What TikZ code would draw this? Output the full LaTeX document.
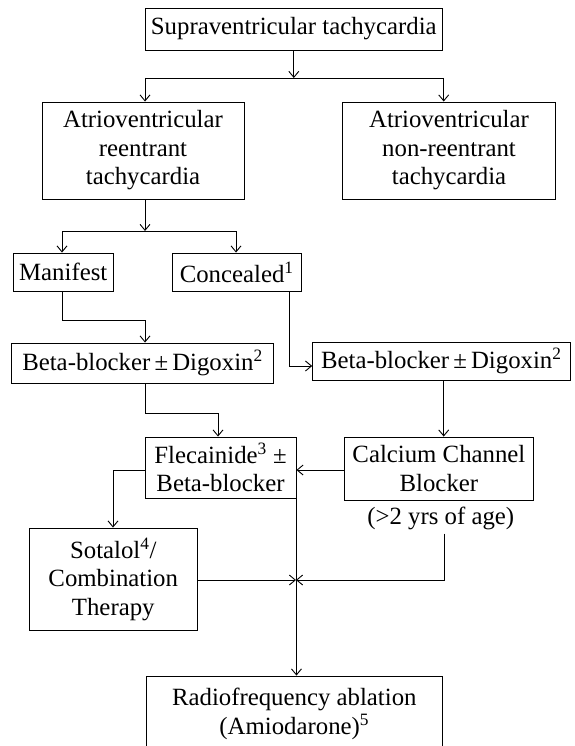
\documentclass[tikz,border=0pt]{standalone}
\usepackage{fontspec}
\setmainfont{Liberation Serif}
\usetikzlibrary{arrows.meta}
\newcommand\boxfont{\fontsize{24.8}{28.5}\selectfont}
\begin{document}
\begin{tikzpicture}[x=1pt,y=-1pt,
  box/.style={draw, line width=0.9pt, inner sep=0pt, align=center, font=\boxfont},
  lbl/.style={inner sep=0pt, align=center, font=\boxfont},
  ln/.style={line width=0.9pt},
  arr/.style={line width=0.9pt, -{Straight Barb[length=6pt,width=10pt]}}]
\clip (0,0) rectangle (574,746);

% boxes
\node[box, minimum width=297.6pt, minimum height=42pt] (sv) at (293.8,29) {Supraventricular tachycardia};
\node[box, minimum width=202pt, minimum height=97pt] (avrt) at (143,150.5) {Atrioventricular\\reentrant\\tachycardia};
\node[box, minimum width=213.2pt, minimum height=97pt] (avnrt) at (449,150.5) {Atrioventricular\\non-reentrant\\tachycardia};
\node[box, minimum width=99.5pt, minimum height=38pt] (man) at (63.25,272) {Manifest};
\node[box, minimum width=128.7pt, minimum height=38pt] (con) at (236.7,272) {Concealed\textsuperscript{1}};
\node[box, minimum width=261.5pt, minimum height=40pt] (bb1) at (142.5,363) {Beta-blocker\,±\,Digoxin\textsuperscript{2}};
\node[box, minimum width=257.4pt, minimum height=38pt] (bb2) at (441.3,361) {Beta-blocker\,±\,Digoxin\textsuperscript{2}};
\node[box, minimum width=151pt, minimum height=61pt] (fle) at (220.5,467.5) {Flecainide\textsuperscript{3} ±\\Beta-blocker};
\node[box, minimum width=189.7pt, minimum height=63pt] (cal) at (438.9,468.5) {Calcium Channel\\Blocker};
\node[lbl] (age) at (440.8,518) {(>2 yrs of age)};
\node[box, minimum width=168.5pt, minimum height=102pt] (sot) at (113.25,579) {Sotalol\textsuperscript{4}/\\Combination\\Therapy};
\node[box, minimum width=296.6pt, minimum height=76pt] (rf) at (294.3,714) {Radiofrequency ablation\\(Amiodarone)\textsuperscript{5}};

% junction coordinates
\coordinate (j1) at (293.8,78);
\coordinate (a1) at (145,78);
\coordinate (a2) at (443.7,78);
\coordinate (j2) at (145,231);
\coordinate (b1) at (62,231);
\coordinate (b2) at (236,231);
\coordinate (c1) at (62,320);
\coordinate (c2) at (145,320);
\coordinate (d1) at (289,366);
\coordinate (e1) at (145,413);
\coordinate (e2) at (218,413);
\coordinate (f1) at (443.7,400);
\coordinate (g1) at (300,470);
\coordinate (h1) at (113,470);
\coordinate (k) at (296,580);
\coordinate (m1) at (444.4,580);

% connectors
\draw[arr] (sv.south) -- (j1);
\draw[ln] (a1) -- (a2);
\draw[arr] (a1) -- (avrt.north -| a1);
\draw[arr] (a2) -- (avnrt.north -| a2);

\draw[arr] (avrt.south -| j2) -- (j2);
\draw[ln] (b1) -- (b2);
\draw[arr] (b1) -- (man.north -| b1);
\draw[arr] (b2) -- (con.north -| b2);

\draw[arr] (man.south -| c1) -- (c1) -- (c2) -- (bb1.north -| c2);
\draw[arr] (con.south -| d1) -- (d1) -- (bb2.west |- d1);

\draw[arr] (bb1.south -| e1) -- (e1) -- (e2) -- (fle.north -| e2);
\draw[arr] (bb2.south -| f1) -- (cal.north -| f1);

\draw[arr] (cal.west |- g1) -- (fle.east |- g1);
\draw[arr] (fle.west |- h1) -- (h1) -- (sot.north -| h1);

\draw[arr] (fle.south east) -- (rf.north -| fle.south east);
\draw[arr] (sot.east |- k) -- (k);
\draw[arr] ([yshift=-4pt]age.south -| m1) -- (m1) -- (k);
\end{tikzpicture}
\end{document}
